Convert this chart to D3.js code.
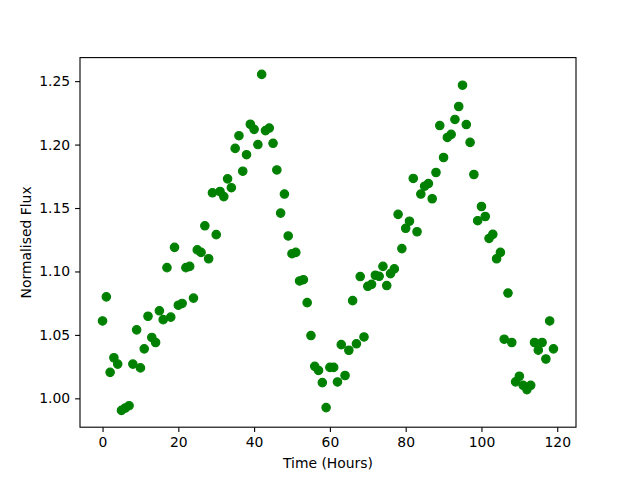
<!DOCTYPE html>
<html>
<head>
<meta charset="utf-8">
<script src="https://cdn.jsdelivr.net/npm/d3@7"></script>
<style>
  body { margin: 0; background: #fff; }
  svg text { font-family: "DejaVu Sans", sans-serif; }
</style>
</head>
<body>
<svg id="chart" width="640" height="480"></svg>
<script>
// Time in hours (one reading per hour)
const hours = d3.range(0, 120);

// Normalised flux
const flux = [
  1.061, 1.080, 1.0205, 1.032, 1.027, 0.9905, 0.9924, 0.9942, 1.027, 1.054,
  1.024, 1.039, 1.0647, 1.048, 1.044, 1.069, 1.062, 1.103, 1.064, 1.119,
  1.0734, 1.0748, 1.103, 1.104, 1.079, 1.117, 1.115, 1.136, 1.110, 1.162,
  1.129, 1.163, 1.159, 1.173, 1.166, 1.197, 1.207, 1.179, 1.192, 1.216,
  1.212, 1.200, 1.2553, 1.211, 1.213, 1.201, 1.180, 1.146, 1.161, 1.128,
  1.114, 1.115, 1.0925, 1.0935, 1.0754, 1.0495, 1.0252, 1.022, 1.0124, 0.9927,
  1.0244, 1.0244, 1.0129, 1.0423, 1.018, 1.0379, 1.077, 1.043, 1.096, 1.0484,
  1.0883, 1.0899, 1.097, 1.0962, 1.104, 1.0889, 1.0983, 1.102, 1.145, 1.118,
  1.134, 1.1396, 1.1733, 1.1313, 1.161, 1.1672, 1.1693, 1.1573, 1.178, 1.215,
  1.1898, 1.2056, 1.208, 1.2198, 1.230, 1.2468, 1.2158, 1.2017, 1.1764, 1.140,
  1.1512, 1.1433, 1.126, 1.1293, 1.110, 1.115, 1.0466, 1.083, 1.044, 1.013,
  1.0174, 1.0103, 1.0069, 1.0103, 1.044, 1.038, 1.044, 1.031, 1.061, 1.039
];

const xTicks = [0, 20, 40, 60, 80, 100, 120];
const yTicks = [1.00, 1.05, 1.10, 1.15, 1.20, 1.25];

const points = hours.map((h, i) => ({ t: h, f: flux[i] }));

// matplotlib-style axes box
const margin = { top: 57.6, right: 64, bottom: 52.8, left: 80 };
const width = 640 - margin.left - margin.right;
const height = 480 - margin.top - margin.bottom;

const svg = d3.select("#chart");
const g = svg.append("g")
  .attr("transform", `translate(${margin.left},${margin.top})`);

// 5% padding around the data, like matplotlib autoscale
const xExt = d3.extent(hours);
const yExt = d3.extent(flux);
const xPad = (xExt[1] - xExt[0]) * 0.05;
const yPad = (yExt[1] - yExt[0]) * 0.05;

const x = d3.scaleLinear()
  .domain([xExt[0] - xPad, xExt[1] + xPad])
  .range([0, width]);

const y = d3.scaleLinear()
  .domain([yExt[0] - yPad, yExt[1] + yPad])
  .range([height, 0]);

// Points
g.selectAll("circle")
  .data(points)
  .enter()
  .append("circle")
  .attr("cx", d => x(d.t))
  .attr("cy", d => y(d.f))
  .attr("r", 4.2)
  .attr("fill", "#008000")
  .attr("stroke", "#008000")
  .attr("stroke-width", 1.2);

// Axes
const xAxis = g.append("g")
  .attr("transform", `translate(0,${height})`)
  .call(d3.axisBottom(x).tickValues(xTicks).tickFormat(d3.format("d"))
    .tickSizeInner(4.9).tickSizeOuter(0).tickPadding(4.9));

const yAxis = g.append("g")
  .call(d3.axisLeft(y).tickValues(yTicks).tickFormat(d3.format(".2f"))
    .tickSizeInner(4.9).tickSizeOuter(0).tickPadding(4.9));

[xAxis, yAxis].forEach(a => {
  a.select(".domain").remove();
  a.selectAll("line").attr("stroke", "#000").attr("stroke-width", 1.1);
  a.selectAll("text").attr("font-size", "13.9px").attr("fill", "#000")
    .attr("font-family", "DejaVu Sans, sans-serif");
});

// Frame
g.append("rect")
  .attr("width", width)
  .attr("height", height)
  .attr("fill", "none")
  .attr("stroke", "#000")
  .attr("stroke-width", 1.1);

// Axis labels
svg.append("text")
  .attr("x", margin.left + width / 2)
  .attr("y", 468)
  .attr("text-anchor", "middle")
  .attr("font-size", "13.9px")
  .text("Time (Hours)");

svg.append("text")
  .attr("transform", `translate(31,${margin.top + height / 2}) rotate(-90)`)
  .attr("text-anchor", "middle")
  .attr("font-size", "13.9px")
  .text("Normalised Flux");
</script>
</body>
</html>
